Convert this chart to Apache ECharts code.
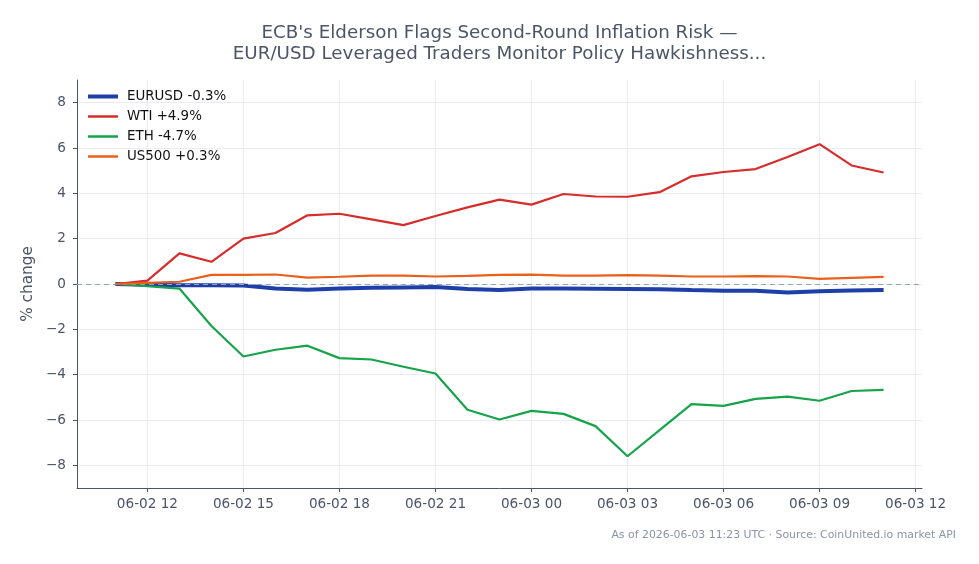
<!DOCTYPE html>
<html>
<head>
<meta charset="utf-8">
<title>ECB Elderson - EUR/USD</title>
<script src="https://cdn.jsdelivr.net/npm/echarts@6/dist/echarts.min.js"></script>
<style>
  html, body { margin: 0; padding: 0; background: #fff; }
  #chart { width: 979px; height: 564px; }
</style>
</head>
<body>
<div id="chart"></div>
<script>
// hours since 2026-06-02 00:00 UTC, one point per hour
const hours = [11, 12, 13, 14, 15, 16, 17, 18, 19, 20, 21, 22, 23, 24, 25, 26, 27, 28, 29, 30, 31, 32, 33, 34, 35]
const tickHours = [12, 15, 18, 21, 24, 27, 30, 33, 36]
const yTicks = [-8, -6, -4, -2, 0, 2, 4, 6, 8]

const eurusd = [0, -0.03, -0.05, -0.05, -0.07, -0.2, -0.25, -0.2, -0.17, -0.15, -0.13, -0.22, -0.27, -0.2, -0.2, -0.21, -0.22, -0.23, -0.27, -0.3, -0.3, -0.37, -0.32, -0.29, -0.27]
const wti = [0, 0.15, 1.35, 0.98, 2.0, 2.25, 3.03, 3.1, 2.85, 2.6, 3.0, 3.38, 3.72, 3.5, 3.97, 3.86, 3.85, 4.05, 4.75, 4.94, 5.07, 5.6, 6.17, 5.23, 4.92]
const eth = [0, -0.1, -0.2, -1.85, -3.2, -2.9, -2.72, -3.27, -3.33, -3.65, -3.95, -5.55, -5.98, -5.6, -5.73, -6.27, -7.6, -6.45, -5.3, -5.38, -5.07, -4.97, -5.15, -4.72, -4.67]
const us500 = [0, 0.05, 0.1, 0.4, 0.4, 0.42, 0.28, 0.32, 0.37, 0.37, 0.33, 0.36, 0.4, 0.41, 0.37, 0.37, 0.39, 0.37, 0.33, 0.33, 0.35, 0.33, 0.23, 0.27, 0.31]

const seriesNames = ['EURUSD -0.3%', 'WTI +4.9%', 'ETH -4.7%', 'US500 +0.3%']
const seriesColors = ['#1e3fa8', '#d62c2c', '#16a34a', '#e8601c']
const seriesWidths = [4, 2.2, 2.2, 2.2]

const font = 'DejaVu Sans'
const axisColor = '#4a5568'
const gridColor = '#e9ecf1'

function pairUp(values) {
  return values.map((v, i) => [hours[i], v])
}

function hourLabel(h) {
  const day = h < 24 ? '06-02' : '06-03'
  const hr = String(Math.round(h) % 24).padStart(2, '0')
  return day + ' ' + hr
}

function makeSeries(idx, values) {
  return {
    type: 'line',
    symbol: 'none',
    name: seriesNames[idx],
    data: pairUp(values),
    lineStyle: { color: seriesColors[idx], width: seriesWidths[idx] },
    itemStyle: { color: seriesColors[idx] },
    z: 2 + idx,
  }
}

const chart = echarts.init(document.getElementById('chart'))

const eurusdSeries = makeSeries(0, eurusd)
eurusdSeries.markLine = {
  silent: true,
  symbol: 'none',
  label: { show: false },
  lineStyle: { color: '#94a3b8', type: [5, 4], width: 1 },
  data: [{ yAxis: 0 }],
}

chart.setOption({
  animation: false,
  textStyle: { fontFamily: font },
  title: [{
    text: "ECB's Elderson Flags Second-Round Inflation Risk —\nEUR/USD Leveraged Traders Monitor Policy Hawkishness...",
    left: 494.5,
    textAlign: 'center',
    top: 18,
    textStyle: { color: axisColor, fontFamily: font, fontSize: 18.3, fontWeight: 'normal', lineHeight: 21 },
  }, {
    text: 'As of 2026-06-03 11:23 UTC · Source: CoinUnited.io market API',
    right: 18,
    top: 525,
    textStyle: { color: '#8a94a6', fontFamily: font, fontSize: 10.9, fontWeight: 'normal' },
  }],
  legend: {
    orient: 'vertical',
    left: 81,
    top: 85,
    itemWidth: 30,
    itemHeight: 12,
    itemGap: 7,
    itemStyle: { opacity: 0 },
    textStyle: { color: '#111', fontFamily: font, fontSize: 13.4, padding: [0, 0, 0, 4] },
    data: seriesNames.map((name, i) => ({
      name: name,
      lineStyle: { color: seriesColors[i], width: i === 0 ? 4 : 2.5 },
    })),
  },
  grid: {
    left: 77,
    right: 57,
    top: 80,
    bottom: 76,
  },
  xAxis: {
    type: 'value',
    min: 9.8,
    max: 36.2,
    axisLine: { show: true, onZero: false, lineStyle: { color: axisColor, width: 1 } },
    axisTick: { show: true, customValues: tickHours, length: 4, lineStyle: { color: axisColor } },
    axisLabel: {
      customValues: tickHours,
      color: axisColor,
      fontFamily: font,
      fontSize: 13.6,
      margin: 9,
      formatter: (v) => hourLabel(v),
    },
    splitLine: { show: true, lineStyle: { color: gridColor, width: 1 } },
  },
  yAxis: {
    type: 'value',
    min: -9,
    max: 9,
    name: '% change',
    nameLocation: 'middle',
    nameGap: 37,
    nameTextStyle: { color: axisColor, fontFamily: font, fontSize: 15.3 },
    axisLine: { show: true, onZero: false, lineStyle: { color: axisColor, width: 1 } },
    axisTick: { show: true, customValues: yTicks, length: 4, lineStyle: { color: axisColor } },
    axisLabel: {
      customValues: yTicks,
      color: axisColor,
      fontFamily: font,
      fontSize: 13.6,
      margin: 11,
      formatter: (v) => String(v).replace('-', '\u2212'),
    },
    splitLine: { show: true, lineStyle: { color: gridColor, width: 1 } },
  },
  series: [
    eurusdSeries,
    makeSeries(1, wti),
    makeSeries(2, eth),
    makeSeries(3, us500),
  ],
})

window.addEventListener('resize', () => {
  chart.resize()
})
</script>
</body>
</html>
